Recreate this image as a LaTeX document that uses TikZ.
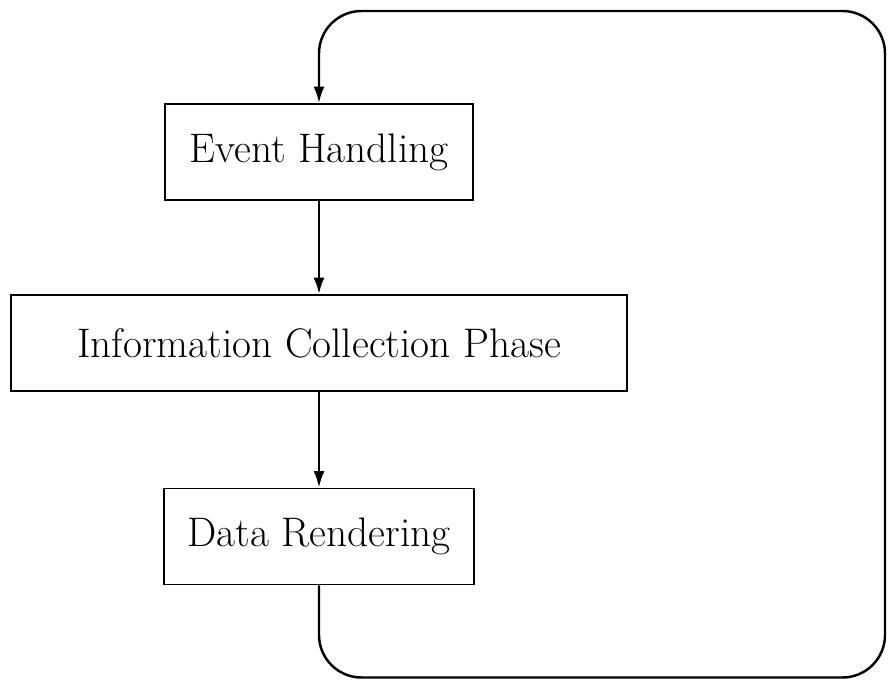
\documentclass[tikz,border=0pt]{standalone}
\usetikzlibrary{arrows.meta}

\begin{document}
\begin{tikzpicture}[
    block/.style={draw, line width=1pt, minimum height=1.92cm, font=\fontsize{23.5}{28}\selectfont},
    flow/.style={line width=1.4pt, -{Latex[length=3.3mm,width=2.2mm]}}
  ]
            \useasboundingbox (0,0) rectangle (17.78,13.62);

            \node[block, minimum width=6.16cm] (E) at (6.38,10.58) {Event Handling};
            \node[block, minimum width=12.32cm] (I) at (6.38,6.76) {Information Collection Phase};
            \node[block, minimum width=6.2cm] (D) at (6.38,2.89) {Data Rendering};

            \coordinate (BL) at (6.38,0.07); \coordinate (BR) at (17.7,0.07);
            \coordinate (TR) at (17.7,13.4); \coordinate (TL) at (6.38,13.4);

            \draw[flow] (E) to (I); \draw[flow] (I) to (D);
            \draw[flow, rounded corners=0.85cm] (D) -- (BL) -- (BR) -- (TR) -- (TL) -- (E);
        \end{tikzpicture}
\end{document}
